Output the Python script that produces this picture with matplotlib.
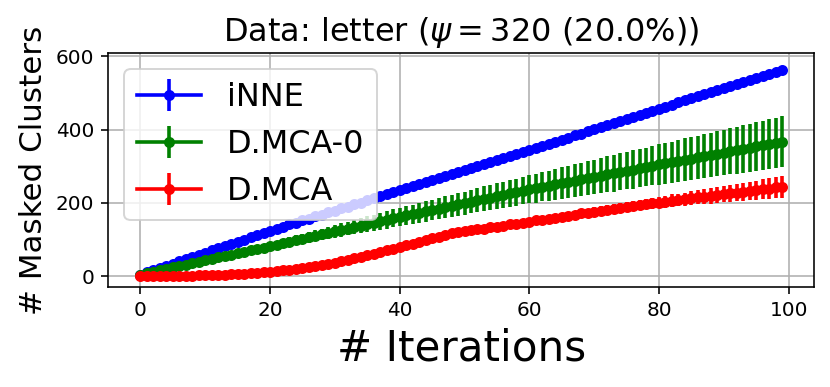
import matplotlib
matplotlib.use("Agg")
import matplotlib.pyplot as plt

iters = list(range(100))

inne = [4, 10, 16, 22, 28, 34, 40, 46, 52, 58, 64, 70, 76, 82, 88, 94, 100, 106, 112, 118, 124,
        130, 135, 141, 146, 152, 157, 163, 168, 174, 179, 185, 190, 196, 201, 207, 212, 218, 223, 229, 234,
        240, 245, 251, 256, 262, 267, 273, 278, 284, 289, 295, 300, 306, 311, 317, 322, 328, 333, 339, 344,
        350, 355, 361, 367, 372, 378, 384, 389, 395, 401, 406, 412, 417, 423, 429, 434, 440, 446, 451, 457,
        463, 468, 474, 480, 485, 491, 496, 502, 508, 513, 519, 525, 530, 536, 541, 547, 553, 558, 564]
inne_err = [0, 0, 0, 1, 1, 1, 1, 1, 1, 1, 2, 2, 2, 2, 2, 2, 2, 2, 3, 3, 3,
            3, 3, 3, 3, 3, 3, 3, 4, 4, 4, 4, 4, 4, 4, 4, 4, 4, 5, 5, 5,
            5, 5, 5, 5, 5, 5, 5, 5, 5, 6, 6, 6, 6, 6, 6, 6, 6, 6, 6, 6,
            6, 6, 7, 7, 7, 7, 7, 7, 7, 7, 7, 7, 7, 7, 8, 8, 8, 8, 8, 8,
            8, 8, 8, 8, 8, 8, 8, 8, 8, 9, 9, 9, 9, 9, 9, 9, 9, 9, 10]

dmca0 = [4, 8, 12, 16, 20, 24, 27, 31, 35, 39, 43, 47, 51, 55, 59, 63, 66, 70, 74, 78, 82,
         86, 90, 94, 98, 102, 106, 110, 114, 118, 122, 126, 130, 134, 138, 142, 146, 150, 154, 158, 162,
         166, 169, 173, 177, 181, 184, 188, 192, 196, 199, 203, 207, 211, 214, 218, 222, 226, 229, 233, 237,
         240, 244, 247, 251, 254, 258, 261, 264, 268, 271, 274, 278, 281, 285, 288, 291, 295, 298, 302, 305,
         308, 311, 315, 318, 321, 324, 328, 331, 334, 337, 341, 344, 347, 350, 354, 357, 360, 363, 367]
dmca0_err = [0, 0, 1, 1, 2, 2, 3, 3, 4, 4, 5, 5, 6, 6, 7, 7, 8, 8, 9, 9, 10,
             11, 12, 12, 13, 14, 15, 15, 16, 17, 18, 18, 19, 20, 21, 21, 22, 23, 24, 24, 25,
             26, 26, 27, 28, 28, 29, 30, 30, 31, 32, 32, 33, 34, 34, 35, 36, 36, 37, 37, 38,
             39, 40, 41, 42, 43, 44, 44, 45, 46, 47, 48, 49, 50, 50, 51, 52, 53, 53, 54, 55,
             56, 56, 57, 58, 59, 59, 60, 61, 62, 62, 63, 64, 65, 65, 66, 67, 68, 68, 69]

dmca = [0, 0, 0, 0, 0, 1, 1, 1, 1, 2, 2, 3, 3, 4, 5, 5, 6, 8, 9, 10, 12,
        14, 16, 18, 20, 22, 25, 28, 31, 34, 37, 41, 45, 49, 53, 57, 61, 66, 70, 75, 80,
        84, 89, 94, 98, 103, 107, 112, 117, 121, 124, 126, 128, 130, 133, 135, 138, 141, 143, 146, 149,
        152, 154, 157, 160, 162, 165, 168, 171, 173, 176, 179, 181, 184, 186, 189, 191, 194, 196, 199, 201,
        203, 206, 208, 210, 213, 215, 217, 219, 222, 224, 226, 228, 230, 233, 235, 237, 239, 242, 244]
dmca_err = [0, 0, 0, 0, 0, 0, 0, 0, 1, 1, 1, 1, 1, 1, 1, 1, 2, 2, 2, 2, 2,
            2, 2, 2, 3, 3, 3, 3, 3, 3, 4, 4, 4, 4, 4, 4, 5, 5, 5, 5, 5,
            5, 5, 6, 6, 6, 6, 6, 6, 7, 7, 7, 7, 7, 7, 8, 8, 8, 8, 8, 8,
            9, 9, 9, 10, 10, 10, 11, 11, 11, 12, 12, 12, 13, 13, 13, 14, 14, 14, 15, 15,
            16, 17, 17, 18, 19, 19, 20, 21, 21, 22, 23, 24, 24, 25, 26, 27, 28, 29, 30]

dpi = 144
fig, ax = plt.subplots(figsize=(830 / dpi, 387 / dpi), dpi=dpi)
fig.subplots_adjust(left=0.1305, right=0.981, bottom=0.259, top=0.862)

style = dict(marker='o', markersize=4.5, linewidth=1.8, elinewidth=1.8)
ax.errorbar(iters, inne, yerr=inne_err, color='blue', label='iNNE', **style)
ax.errorbar(iters, dmca0, yerr=dmca0_err, color='green', label='D.MCA-0', **style)
ax.errorbar(iters, dmca, yerr=dmca_err, color='red', label='D.MCA', **style)

ax.set_ylim(-29, 608)
ax.grid(True)
ax.set_title(r'Data: letter ($\psi = 320$ (20.0%))', fontsize=16)
ax.set_xlabel('# Iterations', fontsize=21)
ax.set_ylabel('# Masked Clusters', fontsize=15.5)
ax.legend(loc='upper left', fontsize=16)

plt.savefig('out.png', dpi=dpi)
